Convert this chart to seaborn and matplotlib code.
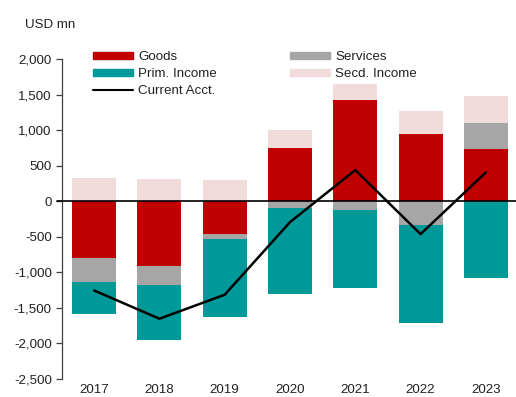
import numpy as np
import pandas as pd
import matplotlib
matplotlib.use("Agg")
import matplotlib.pyplot as plt
from matplotlib.patches import Patch
from matplotlib.lines import Line2D
import seaborn as sns

# Balance of payments components, USD mn
years = ["2017", "2018", "2019", "2020", "2021", "2022", "2023"]
goods = [-803, -915, -465, 742, 1428, 949, 728]
services = [-332, -268, -75, -99, -131, -342, 376]
prim_income = [-451, -779, -1088, -1205, -1089, -1381, -1079]
secd_income = [320, 306, 292, 253, 226, 324, 375]
current_acct = [-1258, -1656, -1318, -296, 437, -465, 404]

series_names = ["Goods", "Services", "Prim. Income", "Secd. Income"]
series_values = [goods, services, prim_income, secd_income]
colors = {"Goods": "#C00000", "Services": "#A6A6A6",
          "Prim. Income": "#009999", "Secd. Income": "#F2DCDB"}

sns.set_style("white")
plt.rcParams["font.family"] = ["Liberation Sans", "DejaVu Sans"]
FS = 9.6
plt.rcParams["font.size"] = FS
TEXT = "#222222"

fig = plt.figure(figsize=(5.16, 3.97), dpi=100)
ax = fig.add_axes([61.5 / 516, 18.3 / 397, 457 / 516, 319.7 / 397])

# cumulative stack edges, positives upward and negatives downward from zero
vals = np.array(series_values, dtype=float)
cum_pos = np.cumsum(np.clip(vals, 0, None), axis=0)
cum_neg = np.cumsum(np.clip(vals, None, 0), axis=0)

# draw outer layers first so inner layers sit on top of them
for i in reversed(range(len(series_names))):
    name = series_names[i]
    for cum in (cum_pos[i], cum_neg[i]):
        df = pd.DataFrame({"year": years, "value": cum})
        sns.barplot(data=df, x="year", y="value", color=colors[name],
                    saturation=1, width=0.675, ax=ax, linewidth=0,
                    errorbar=None)

ax.axhline(0, color="black", lw=1.2, xmin=-0.01, clip_on=False, zorder=3)
sns.lineplot(x=np.arange(len(years)), y=current_acct, color="black",
             lw=1.8, ax=ax, zorder=4)

ax.set_xlim(-0.5, 6.5)
ax.set_ylim(-2500, 2000)
ax.set_yticks(np.arange(-2500, 2001, 500))
ax.yaxis.set_major_formatter(matplotlib.ticker.FuncFormatter(lambda v, p: f"{int(v):,}"))
ax.set_xlabel("")
ax.set_ylabel("")
for s in ("top", "right", "bottom"):
    ax.spines[s].set_visible(False)
ax.spines["left"].set_color("#404040")
ax.spines["left"].set_linewidth(0.9)
ax.tick_params(axis="y", left=True, length=4, width=0.9, color="#404040",
               pad=3, labelsize=FS, labelcolor=TEXT)
ax.tick_params(axis="x", bottom=False, length=0, pad=4, labelsize=FS,
               labelcolor=TEXT)

fig.text(25 / 516, 1 - 25 / 397, "USD mn", fontsize=FS, va="center",
         ha="left", color=TEXT)

handles = [
    Patch(color=colors["Goods"], label="Goods"),
    Patch(color=colors["Prim. Income"], label="Prim. Income"),
    Line2D([], [], color="black", lw=1.5, label="Current Acct."),
    Patch(color=colors["Services"], label="Services"),
    Patch(color=colors["Secd. Income"], label="Secd. Income"),
]
fig.legend(handles=handles, ncol=2, loc="upper left",
           bbox_to_anchor=(93 / 516, 1 - 51 / 397), frameon=False,
           borderpad=0, borderaxespad=0, handlelength=3.0, handleheight=0.48,
           handletextpad=0.38, labelspacing=0.38, columnspacing=5.5,
           fontsize=FS, labelcolor=TEXT)

fig.savefig("out.png", dpi=100)
